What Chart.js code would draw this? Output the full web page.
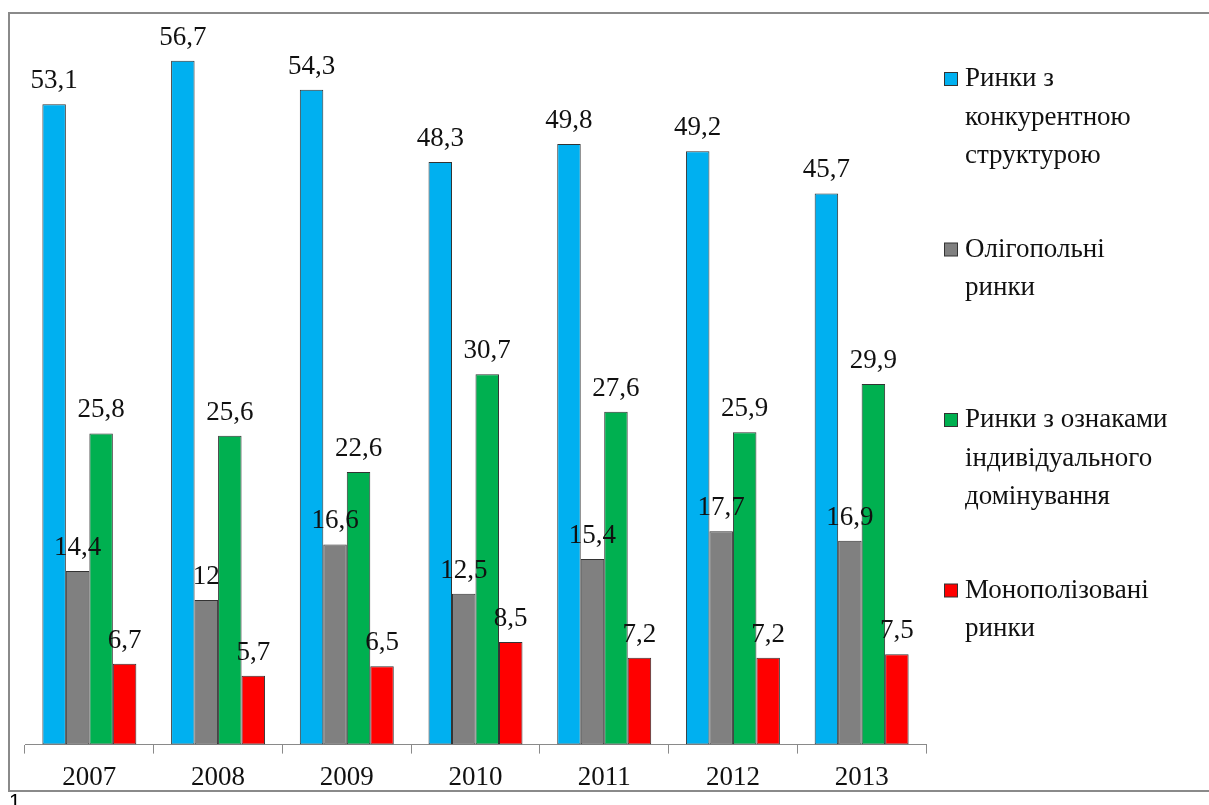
<!DOCTYPE html>
<html>
<head>
<meta charset="utf-8">
<script src="https://cdn.jsdelivr.net/npm/chart.js@4/dist/chart.umd.min.js"></script>
<style>
  html, body { margin: 0; padding: 0; background: #fff; }
  #wrap { position: relative; width: 1209px; height: 805px; }
  canvas { display: block; }
</style>
</head>
<body>
<div id="wrap"><canvas id="c" width="1209" height="805"></canvas></div>
<script>
const years = ['2007', '2008', '2009', '2010', '2011', '2012', '2013'];
const competitive = [53.1, 56.7, 54.3, 48.3, 49.8, 49.2, 45.7];
const oligopoly = [14.4, 12, 16.6, 12.5, 15.4, 17.7, 16.9];
const dominance = [25.8, 25.6, 22.6, 30.7, 27.6, 25.9, 29.9];
const monopoly = [6.7, 5.7, 6.5, 8.5, 7.2, 7.2, 7.5];
const seriesNames = [
  ['Ринки з', 'конкурентною', 'структурою'],
  ['Олігопольні', 'ринки'],
  ['Ринки з ознаками', 'індивідуального', 'домінування'],
  ['Монополізовані', 'ринки']
];
const seriesColors = ['#00B0F0', '#808080', '#00B050', '#FF0000'];
const footnote = '1';

const SERIF = '"Liberation Serif", "Times New Roman", "DejaVu Serif", serif';

const labelsPlugin = {
  id: 'valueLabels',
  afterDatasetsDraw(chart) {
    const ctx = chart.ctx;
    ctx.save();
    ctx.font = '27px ' + SERIF;
    ctx.fillStyle = '#111';
    ctx.textAlign = 'center';
    ctx.textBaseline = 'alphabetic';
    chart.data.datasets.forEach((ds, i) => {
      const meta = chart.getDatasetMeta(i);
      meta.data.forEach((el, j) => {
        const txt = String(ds.data[j]).replace('.', ',');
        ctx.fillText(txt, el.x, el.y - 16);
      });
    });
    ctx.restore();
  }
};

const frameLegendPlugin = {
  id: 'frameLegend',
  beforeDraw(chart) {
    const ctx = chart.ctx;
    ctx.save();
    ctx.fillStyle = '#fff';
    ctx.fillRect(0, 0, chart.width, chart.height);
    ctx.strokeStyle = '#8a8a8a';
    ctx.lineWidth = 2;
    ctx.beginPath();
    ctx.moveTo(1209, 13);
    ctx.lineTo(9, 13);
    ctx.lineTo(9, 791);
    ctx.lineTo(1209, 791);
    ctx.stroke();
    ctx.restore();
  },
  afterDraw(chart) {
    const ctx = chart.ctx;
    ctx.save();
    ctx.font = '27px ' + SERIF;
    ctx.textBaseline = 'middle';
    ctx.textAlign = 'left';
    const y0 = 79, step = 170.5, lineH = 38.5;
    chart.data.datasets.forEach((ds, i) => {
      const y = y0 + i * step;
      ctx.fillStyle = ds.backgroundColor;
      ctx.fillRect(944.5, y - 6.5, 13, 13);
      ctx.strokeStyle = '#333';
      ctx.lineWidth = 1;
      ctx.strokeRect(944.5, y - 6.5, 13, 13);
      ctx.fillStyle = '#111';
      seriesNames[i].forEach((line, k) => {
        ctx.fillText(line, 965, y + k * lineH);
      });
    });
    ctx.font = '21px "Liberation Sans", Arial, sans-serif';
    ctx.fillStyle = '#000';
    ctx.textBaseline = 'top';
    ctx.fillText(footnote, 9, 792);
    ctx.restore();
  }
};

const datasets = [competitive, oligopoly, dominance, monopoly].map((d, i) => ({
  label: seriesNames[i].join(' '),
  data: d,
  backgroundColor: seriesColors[i],
  borderColor: '#333',
  borderWidth: 1,
  borderSkipped: false,
  categoryPercentage: 0.73,
  barPercentage: 1.0
}));

new Chart(document.getElementById('c'), {
  type: 'bar',
  data: { labels: years, datasets },
  options: {
    responsive: false,
    animation: false,
    events: [],
    layout: { padding: { left: 25, right: 283, top: 21, bottom: 3 } },
    plugins: { legend: { display: false }, tooltip: { enabled: false } },
    scales: {
      x: {
        offset: true,
        grid: {
          offset: true,
          drawOnChartArea: false,
          drawTicks: true,
          tickLength: 9,
          color: '#8a8a8a',
          lineWidth: 1
        },
        border: { display: true, color: '#8a8a8a', width: 1 },
        ticks: {
          color: '#111',
          font: { family: SERIF, size: 27 },
          padding: 8,
          maxRotation: 0
        }
      },
      y: {
        display: false,
        min: 0,
        max: 60
      }
    }
  },
  plugins: [labelsPlugin, frameLegendPlugin]
});
</script>
</body>
</html>
